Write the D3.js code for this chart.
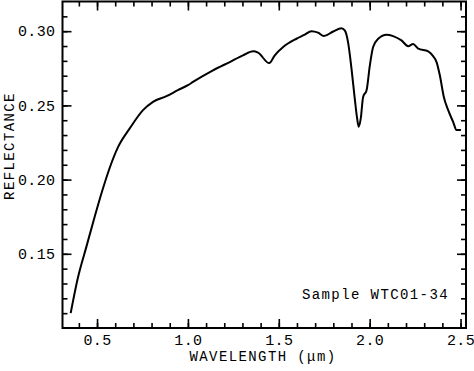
<!DOCTYPE html>
<html>
<head>
<meta charset="utf-8">
<script src="https://cdn.jsdelivr.net/npm/d3@7"></script>
<style>
  body { margin: 0; background: #fff; }
  svg text { font-family: "Courier New", Courier, "Nimbus Mono PS", FreeMono, "Liberation Mono", monospace; font-size: 14px; letter-spacing: 1.4px; fill: #000; }
  svg .tick text { font-size: 15px; letter-spacing: 0.4px; }
</style>
</head>
<body>
<svg id="chart" width="474" height="371"></svg>
<script>
// spectrum
var wavelength = [0.355, 0.395, 0.442, 0.487, 0.530, 0.570, 0.616, 0.680, 0.753, 0.808,
  0.882, 0.945, 1.000, 1.028, 1.138, 1.230, 1.303, 1.359, 1.386, 1.447,
  1.478, 1.524, 1.597, 1.640, 1.680, 1.716, 1.748, 1.799, 1.845, 1.863,
  1.881, 1.900, 1.918, 1.931, 1.940, 1.951, 1.964, 1.983, 2.001, 2.019,
  2.047, 2.093, 2.129, 2.175, 2.212, 2.239, 2.267, 2.322, 2.349, 2.368,
  2.386, 2.408, 2.432, 2.459, 2.478, 2.502];
var reflectance = [0.110, 0.134, 0.155, 0.175, 0.193, 0.208, 0.222, 0.2345, 0.2468, 0.2524,
  0.2562, 0.2603, 0.2636, 0.2658, 0.2736, 0.2792, 0.2837, 0.2864, 0.2855, 0.2785,
  0.2837, 0.2893, 0.2949, 0.2975, 0.3000, 0.2990, 0.2967, 0.2998, 0.3020, 0.3005,
  0.2926, 0.2748, 0.2546, 0.2412, 0.2356, 0.2412, 0.2557, 0.2602, 0.2770, 0.2893,
  0.2949, 0.2976, 0.2967, 0.2938, 0.2899, 0.2913, 0.2882, 0.2864, 0.2832, 0.2792,
  0.2703, 0.2557, 0.2468, 0.2389, 0.2334, 0.2334];

var xMajor = [0.5, 1.0, 1.5, 2.0, 2.5];
var yMajor = [0.15, 0.20, 0.25, 0.30];
var xMinor = d3.range(4, 26).map(function (d) { return d / 10; });
var yMinor = d3.range(11, 32).map(function (d) { return d / 100; });

var sampleName = "Sample WTC01-34";

var L = 62.5, R = 466, T = 1.5, B = 328;

var x = d3.scaleLinear().domain([0.31, 2.53]).range([L, R]);
var y = d3.scaleLinear().domain([0.10, 0.32]).range([B, T]);

var svg = d3.select("#chart");

function styleAxis(g) {
  g.attr("font-family", null).attr("font-size", null);
  g.select(".domain").remove();
  g.selectAll(".tick line").attr("stroke", "#000").attr("stroke-width", 1.6);
}

// minor ticks, all four sides
svg.append("g").attr("transform", "translate(0," + B + ")")
  .call(d3.axisBottom(x).tickValues(xMinor).tickSize(-5).tickFormat(""))
  .call(styleAxis);
svg.append("g").attr("transform", "translate(0," + T + ")")
  .call(d3.axisTop(x).tickValues(xMinor).tickSize(-5).tickFormat(""))
  .call(styleAxis);
svg.append("g").attr("transform", "translate(" + L + ",0)")
  .call(d3.axisLeft(y).tickValues(yMinor).tickSize(-5).tickFormat(""))
  .call(styleAxis);
svg.append("g").attr("transform", "translate(" + R + ",0)")
  .call(d3.axisRight(y).tickValues(yMinor).tickSize(-5).tickFormat(""))
  .call(styleAxis);

// major ticks with labels
svg.append("g").attr("transform", "translate(0," + B + ")")
  .call(d3.axisBottom(x).tickValues(xMajor).tickSize(-9).tickPadding(6).tickFormat(d3.format(".1f")))
  .call(styleAxis);
svg.append("g").attr("transform", "translate(0," + T + ")")
  .call(d3.axisTop(x).tickValues(xMajor).tickSize(-9).tickFormat(""))
  .call(styleAxis);
svg.append("g").attr("transform", "translate(" + L + ",0)")
  .call(d3.axisLeft(y).tickValues(yMajor).tickSize(-9).tickPadding(7).tickFormat(d3.format(".2f")))
  .call(styleAxis);
svg.append("g").attr("transform", "translate(" + R + ",0)")
  .call(d3.axisRight(y).tickValues(yMajor).tickSize(-9).tickFormat(""))
  .call(styleAxis);

// frame
svg.append("rect")
  .attr("x", L).attr("y", T).attr("width", R - L).attr("height", B - T)
  .attr("fill", "none").attr("stroke", "#000").attr("stroke-width", 2);

// spectrum curve
var pts = wavelength.map(function (w, i) { return [w, reflectance[i]]; });
var line = d3.line()
  .x(function (d) { return x(d[0]); })
  .y(function (d) { return y(d[1]); })
  .curve(d3.curveMonotoneX);
svg.append("path").datum(pts)
  .attr("d", line)
  .attr("fill", "none").attr("stroke", "#000").attr("stroke-width", 2)
  .attr("stroke-linejoin", "round");

// labels
svg.append("text").attr("x", 263).attr("y", 361).attr("text-anchor", "middle")
  .text("WAVELENGTH (\u03bcm)");
svg.append("text").attr("transform", "translate(14,146) rotate(-90)")
  .attr("text-anchor", "middle").text("REFLECTANCE");
svg.append("text").attr("x", 449).attr("y", 299).attr("text-anchor", "end")
  .text(sampleName);
</script>
</body>
</html>
